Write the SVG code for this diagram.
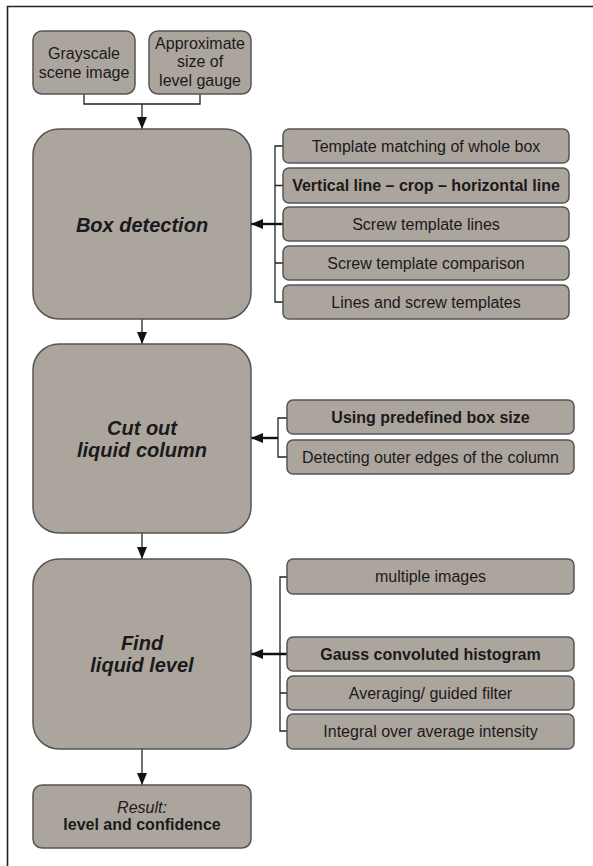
<svg xmlns="http://www.w3.org/2000/svg" width="593" height="866" viewBox="0 0 593 866">
<style>
.bx{fill:#aca59e;stroke:#555;stroke-width:1.5}
.t{font-family:"Liberation Sans",Arial,sans-serif;fill:#1a1a1a;text-anchor:middle}
.s{font-size:16px}
.b{font-weight:bold}
.big{font-size:20px;font-weight:bold;font-style:italic}
.ln{fill:none;stroke:#222;stroke-width:1.3}
.ar{fill:none;stroke:#111;stroke-width:2.4}
</style>
<defs>
<marker id="ah" viewBox="0 0 12 10" refX="12" refY="5" markerWidth="12" markerHeight="10" markerUnits="userSpaceOnUse" orient="auto">
<path d="M0,0 L12,5 L0,10 Z" fill="#111"/>
</marker>
</defs>
<rect width="593" height="866" fill="#fff"/>
<path d="M7.5,866 V6.5 H593" fill="none" stroke="#222" stroke-width="1.6"/>

<g id="connectors">
<path class="ln" d="M84,94 V104 H200 V94"/>
<path class="ln" d="M142,104 V129" marker-end="url(#ah)"/>
<path class="ln" d="M142,319 V344" marker-end="url(#ah)"/>
<path class="ln" d="M142,533 V559" marker-end="url(#ah)"/>
<path class="ln" d="M142,749 V785" marker-end="url(#ah)"/>
<path class="ln" d="M283,146 H275 V302 H283 M275,185.5 H283 M275,263 H283"/>
<path class="ar" d="M283,224 H251" marker-end="url(#ah)"/>
<path class="ln" d="M287,418 H278 V457 H287"/>
<path class="ar" d="M278,438 H251" marker-end="url(#ah)"/>
<path class="ln" d="M287,577 H280 V731 H287 M280,693 H287"/>
<path class="ar" d="M287,654 H251" marker-end="url(#ah)"/>
</g>

<g id="in1"><rect class="bx" x="33" y="31" width="102" height="63" rx="9"/>
<text class="t s" x="84" y="58.5">Grayscale</text><text class="t s" x="84" y="77.5">scene image</text></g>
<g id="in2"><rect class="bx" x="149" y="31" width="102" height="63" rx="9"/>
<text class="t s" x="200" y="48.5">Approximate</text><text class="t s" x="200" y="67">size of</text><text class="t s" x="200" y="85.5">level gauge</text></g>

<g id="boxdet"><rect class="bx" x="33" y="129" width="218" height="190" rx="26"/>
<text class="t big" x="142" y="232">Box detection</text></g>
<g id="cutout"><rect class="bx" x="33" y="344" width="218" height="189" rx="26"/>
<text class="t big" x="142" y="435">Cut out</text><text class="t big" x="142" y="457">liquid column</text></g>
<g id="find"><rect class="bx" x="33" y="559" width="218" height="190" rx="26"/>
<text class="t big" x="142" y="650">Find</text><text class="t big" x="142" y="672">liquid level</text></g>
<g id="result"><rect class="bx" x="33" y="785" width="218" height="63" rx="9"/>
<text class="t s" x="142" y="813" font-style="italic">Result:</text><text class="t s b" x="142" y="830">level and confidence</text></g>

<g id="bd1"><rect class="bx" x="283" y="129" width="286" height="34" rx="6"/><text class="t s" x="426" y="151.5">Template matching of whole box</text></g>
<g id="bd2"><rect class="bx" x="283" y="168" width="286" height="35" rx="6"/><text class="t s b" x="426" y="191">Vertical line – crop – horizontal line</text></g>
<g id="bd3"><rect class="bx" x="283" y="207" width="286" height="34" rx="6"/><text class="t s" x="426" y="229.5">Screw template lines</text></g>
<g id="bd4"><rect class="bx" x="283" y="246" width="286" height="34" rx="6"/><text class="t s" x="426" y="268.5">Screw template comparison</text></g>
<g id="bd5"><rect class="bx" x="283" y="285" width="286" height="34" rx="6"/><text class="t s" x="426" y="307.5">Lines and screw templates</text></g>

<g id="co1"><rect class="bx" x="287" y="400" width="287" height="34" rx="6"/><text class="t s b" x="430.5" y="422.5">Using predefined box size</text></g>
<g id="co2"><rect class="bx" x="287" y="440" width="287" height="34" rx="6"/><text class="t s" x="430.5" y="462.5">Detecting outer edges of the column</text></g>

<g id="fl1"><rect class="bx" x="287" y="559" width="287" height="35" rx="6"/><text class="t s" x="430.5" y="582">multiple images</text></g>
<g id="fl2"><rect class="bx" x="287" y="637" width="287" height="34" rx="6"/><text class="t s b" x="430.5" y="659.5">Gauss convoluted histogram</text></g>
<g id="fl3"><rect class="bx" x="287" y="676" width="287" height="34" rx="6"/><text class="t s" x="430.5" y="698.5">Averaging/ guided filter</text></g>
<g id="fl4"><rect class="bx" x="287" y="714" width="287" height="35" rx="6"/><text class="t s" x="430.5" y="737">Integral over average intensity</text></g>
</svg>
